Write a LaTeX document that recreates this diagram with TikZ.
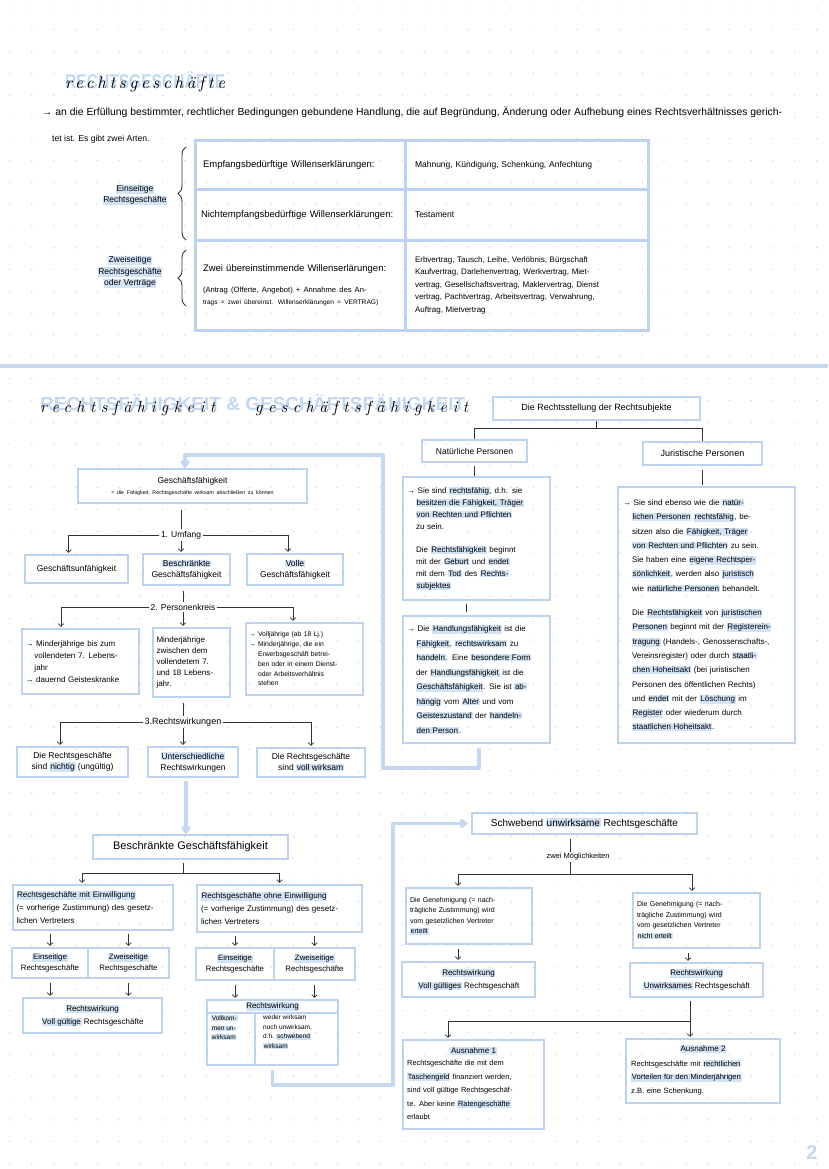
\documentclass[tikz,border=0pt]{standalone}
\usepackage{fontspec}
\newfontfamily\hand{Liberation Sans}
\newfontfamily\cursive[LetterSpace=22]{lmroman10-italic.otf}
\newfontfamily\cursivewide[LetterSpace=34]{lmroman10-italic.otf}
\usetikzlibrary{arrows.meta,decorations.pathreplacing}
\definecolor{boxblue}{HTML}{BCD2EE}
\definecolor{pathblue}{HTML}{C4D8F1}
\definecolor{hlblue}{HTML}{D3E3F6}
\definecolor{titleblue}{HTML}{C2D7F2}
\definecolor{dotgray}{HTML}{CFCFCF}
\newcommand{\hl}[1]{{\setlength{\fboxsep}{0.7pt}\colorbox{hlblue}{#1}}}
\newcommand{\fsz}[2]{\fontsize{#1}{#2}\selectfont}
\newcommand{\ind}{\hspace*{9pt}}
\begin{document}
\begin{tikzpicture}[x=1pt,y=-1pt,
  box/.style={draw=boxblue, line width=1.3pt, inner sep=0pt, font=\hand\fsz{8}{11}, align=left},
  cbox/.style={box, align=center},
  hbox/.style={box, align=center, line width=2.6pt},
  tcell/.style={draw=boxblue, line width=3pt, inner sep=0pt, align=left, font=\hand\fsz{9.5}{12}},
  con/.style={draw=black!80, line width=0.75pt},
  arr/.style={con, -{Straight Barb[length=2.6pt,width=5.5pt]}, shorten >=1.5pt},
  bpath/.style={draw=pathblue, line width=3.3pt, line join=round},
  btip/.style={-{Triangle[length=8pt,width=11pt,round]}},
  lbl/.style={font=\hand\fsz{8.5}{10}, inner sep=1.5pt},
  txt/.style={font=\hand\fsz{8}{11}, inner sep=0pt, align=left},
]
\fill[white] (0,0) rectangle (828,1169);
\useasboundingbox (0,0) rectangle (828,1169);
\foreach \i in {0,...,37}{\foreach \j in {0,...,53}{\fill[dotgray] (10+\i*21.8,8+\j*21.8) circle (0.7);}}

% ---------- title 1 ----------
\node[anchor=base west, inner sep=0] (t1) at (65,89) {\makebox[0pt][l]{\resizebox{160pt}{17pt}{\hand\bfseries\color{titleblue}RECHTSGESCHÄFTE}}\resizebox{160pt}{!}{\cursive rechtsgeschäfte}};

\node[anchor=west, inner sep=0] (intro1) at (42,112) {\resizebox{740pt}{!}{\hand\fsz{9}{11}→ an die Erfüllung bestimmter, rechtlicher Bedingungen gebundene Handlung, die auf Begründung, Änderung oder Aufhebung eines Rechtsverhältnisses gerich-}};
\node[anchor=west, inner sep=0, font=\hand\fsz{8.6}{11}] (intro2) at (52,139) {tet ist. Es gibt zwei Arten.};

% ---------- table ----------
\node[tcell, minimum width=210pt, minimum height=49pt, text width=194pt] (t11) at (300,165.5) {Empfangsbedürftige Willenserklärungen:};
\node[tcell, minimum width=243pt, minimum height=49pt, text width=223pt, font=\hand\fsz{8.5}{12}] (t12) at (526.5,165.5) {Mahnung, Kündigung, Schenkung, Anfechtung};
\node[tcell, minimum width=210pt, minimum height=50pt, text width=198pt] (t21) at (300,215) {Nichtempfangsbedürftige Willenserklärungen:};
\node[tcell, minimum width=243pt, minimum height=50pt, text width=223pt, font=\hand\fsz{8.5}{12}] (t22) at (526.5,215) {Testament};
\node[tcell, minimum width=210pt, minimum height=90pt, text width=194pt] (t31) at (300,285) {Zwei übereinstimmende Willenserlärungen:\par\vspace{9pt}\fsz{7.6}{12}(Antrag (Offerte, Angebot) + Annahme des An-\par\fsz{6.6}{13}trags = zwei übereinst. Willenserklärungen = VERTRAG)};
\node[tcell, minimum width=243pt, minimum height=90pt, text width=223pt, font=\hand\fsz{8}{12.5}] (t32) at (526.5,285) {Erbvertrag, Tausch, Leihe, Verlöbnis, Bürgschaft\\Kaufvertrag, Darlehenvertrag, Werkvertrag, Miet-\\vertrag, Gesellschaftsvertrag, Maklervertrag, Dienst\\vertrag, Pachtvertrag, Arbeitsvertrag, Verwahrung,\\Auftrag, Mietvertrag};

\draw[con, line width=0.9pt, decorate, decoration={brace, amplitude=8pt}] (186,240) -- (186,147);
\draw[con, line width=0.9pt, decorate, decoration={brace, amplitude=8pt}] (186,306) -- (186,250);
\node[txt, align=center, font=\hand\fsz{8.5}{11.5}] (ein) at (135,195) {\hl{Einseitige}\\\hl{Rechtsgeschäfte}};
\node[txt, align=center, font=\hand\fsz{8.5}{11.5}] (zwei) at (130,272) {\hl{Zweiseitige}\\\hl{Rechtsgeschäfte}\\\hl{oder Verträge}};

\draw[bpath] (0,366) -- (828,366);

% ---------- title 2 ----------
\node[anchor=base west, inner sep=0] (t2) at (40,412) {\makebox[0pt][l]{\raisebox{2pt}{\resizebox{425pt}{16pt}{\hand\bfseries\color{titleblue}RECHTSFÄHIGKEIT \& GESCHÄFTSFÄHIGKEIT}}}\makebox[0pt][l]{\resizebox{175pt}{!}{\cursivewide rechtsfähigkeit}}\hspace*{215pt}\resizebox{213pt}{!}{\cursivewide geschäftsfähigkeit}};

% ---------- right tree ----------
\node[hbox, minimum width=207pt, minimum height=23pt, font=\hand\fsz{9}{11}] (rs) at (596.5,408.5) {Die Rechtsstellung der Rechtsubjekte};
\node[hbox, minimum width=105pt, minimum height=22pt, font=\hand\fsz{8.5}{11}] (np) at (474.5,451) {Natürliche Personen};
\node[hbox, minimum width=119pt, minimum height=23pt, font=\hand\fsz{9}{11}] (jp) at (702.5,453.5) {Juristische Personen};
\coordinate (rsj) at (596.5,428);
\draw[con] (rs.south) -- (rsj);
\draw[con] (rsj) -| (np.north);
\draw[con] (rsj) -| (jp.north);

\node[box, minimum width=147pt, minimum height=123pt, text width=139pt, font=\hand\fsz{8}{12}] (n1) at (476.5,538.5) {→ Sie sind \hl{rechtsfähig}, d.h. sie\\\ind\hl{besitzen die Fähigkeit, Träger}\\\ind\hl{von Rechten und Pflichten}\\\ind zu sein.\par\vspace{11pt}\ind Die \hl{Rechtsfähigkeit} beginnt\\\ind mit der \hl{Geburt} und \hl{endet}\\\ind mit dem \hl{Tod} des \hl{Rechts-}\\\ind\hl{subjektes}};
\node[box, minimum width=147pt, minimum height=127pt, text width=139pt, font=\hand\fsz{8}{14.5}] (n2) at (476.5,679.5) {→ Die \hl{Handlungsfähigkeit} ist die\\\ind\hl{Fähigkeit}, \hl{rechtswirksam} zu\\\ind\hl{handeln}. Eine \hl{besondere Form}\\\ind der \hl{Handlungsfähigkeit} ist die\\\ind\hl{Geschäftsfähigkeit}. Sie ist \hl{ab-}\\\ind\hl{hängig} vom \hl{Alter} und vom\\\ind\hl{Geisteszustand} der \hl{handeln-}\\\ind\hl{den Person}.};
\draw[con, shorten <=3pt] (np.south) -- (np.south |- n1.north);
\draw[con, shorten <=3pt, shorten >=3pt] ([xshift=-10pt]n1.south) -- ([xshift=-10pt]n2.north);

\node[box, minimum width=177pt, minimum height=256pt, text width=167pt, font=\hand\fsz{8}{14.3}] (m) at (706.5,615) {→ Sie sind ebenso wie die \hl{natür-}\\\ind\hl{lichen Personen} \hl{rechtsfähig}, be-\\\ind sitzen also die \hl{Fähigkeit, Träger}\\\ind\hl{von Rechten und Pflichten} zu sein.\\\ind Sie haben eine \hl{eigene Rechtsper-}\\\ind\hl{sönlichkeit}, werden also \hl{juristisch}\\\ind wie \hl{natürliche Personen} behandelt.\par\vspace{10pt}\ind Die \hl{Rechtsfähigkeit} von \hl{juristischen}\\\ind\hl{Personen} beginnt mit der \hl{Registerein-}\\\ind\hl{tragung} (Handels-, Genossenschafts-,\\\ind Vereinsregister) oder durch \hl{staatli-}\\\ind\hl{chen Hoheitsakt} (bei juristischen\\\ind Personen des öffentlichen Rechts)\\\ind und \hl{endet} mit der \hl{Löschung} im\\\ind\hl{Register} oder wiederum durch\\\ind\hl{staatlichen Hoheitsakt}.};
\draw[con, shorten <=4pt, shorten >=1pt] (jp.south) -- (jp.south |- m.north);

% ---------- left tree ----------
\node[hbox, minimum width=229pt, minimum height=34pt, text width=222pt, line width=2.2pt] (gf) at (192.5,486) {\fsz{8.5}{11}Geschäftsfähigkeit\par\fsz{5.3}{7}= die Fähigkeit, Rechtsgeschäfte wirksam abschließen zu können};
\node[lbl] (umf) at (181,535) {1. Umfang};
\node[cbox, minimum width=103pt, minimum height=28pt, font=\hand\fsz{8.5}{11}] (gu) at (76.5,569) {Geschäftsunfähigkeit};
\node[cbox, minimum width=87pt, minimum height=31pt, font=\hand\fsz{8.5}{11}] (bgf) at (186.5,569.5) {\hl{Beschränkte}\\Geschäftsfähigkeit};
\node[cbox, minimum width=96pt, minimum height=31pt, font=\hand\fsz{8.5}{11}] (vgf) at (295,569.5) {\hl{Volle}\\Geschäftsfähigkeit};
\draw[con, shorten <=6pt] (umf.north |- gf.south) -- (umf.north);
\draw[arr] (umf.west) -| ([xshift=-8pt]gu.north);
\draw[arr] (umf.south) -- (umf.south |- bgf.north);
\draw[arr] (umf.east) -| ([xshift=-7pt]vgf.north);

\node[lbl] (pers) at (183,607) {2. Personenkreis};
\node[box, minimum width=117pt, minimum height=65pt, text width=110pt, font=\hand\fsz{8}{12}] (pa) at (80.5,661.5) {→ Minderjährige bis zum\\\ind vollendeten 7. Lebens-\\\ind jahr\\→ dauernd Geisteskranke};
\node[box, minimum width=77pt, minimum height=69pt, text width=70pt, font=\hand\fsz{8}{11}] (pb) at (191.5,662.5) {Minderjährige\\zwischen dem\\vollendetem 7.\\und 18 Lebens-\\jahr.};
\node[box, minimum width=117pt, minimum height=72pt, text width=111pt, font=\hand\fsz{6.8}{9.8}] (pc) at (304.5,659) {→ Volljährige (ab 18 Lj.)\\→ Minderjährige, die ein\\\ind Erwerbsgeschäft betrei-\\\ind ben oder in einem Dienst-\\\ind oder Arbeitsverhältnis\\\ind stehen};
\draw[con, shorten <=5pt] (pers.north |- bgf.south) -- (pers.north);
\draw[arr] (pers.west) -| ([xshift=-19.5pt]pa.north);
\draw[arr] (pers.south) -- (pers.south |- pb.north);
\draw[arr] (pers.east) -| ([xshift=-11.5pt]pc.north);

\node[lbl, font=\hand\fsz{9}{11}] (wirk) at (183,722) {3.Rechtswirkungen};
\node[cbox, minimum width=111pt, minimum height=30pt, font=\hand\fsz{8.5}{11}] (rd) at (72.5,762) {Die Rechtsgeschäfte\\sind \hl{nichtig} (ungültig)};
\node[cbox, minimum width=90pt, minimum height=30pt, font=\hand\fsz{8.5}{11}] (re) at (193,762) {\hl{Unterschiedliche}\\Rechtswirkungen};
\node[cbox, minimum width=108pt, minimum height=29pt, font=\hand\fsz{8.5}{11}] (rf) at (311,762.5) {Die Rechtsgeschäfte\\sind \hl{voll wirksam}};
\draw[con, shorten <=5pt] (wirk.north |- pb.south) -- (wirk.north);
\draw[arr] (wirk.west) -| ([xshift=-12.5pt]rd.north);
\draw[arr] (wirk.south) -- (wirk.south |- re.north);
\draw[arr] (wirk.east) -| (rf.north);

% blue path from Natürliche Personen to Geschäftsfähigkeit
\coordinate (b1) at (479,768);
\coordinate (b2) at (383,768);
\coordinate (b3) at (383,455);
\coordinate (b4) at (185,455);
\draw[bpath, btip, shorten <=4pt] (n2.south -| b1) -- (b1) -- (b2) -- (b3) -- (b4) -- (b4 |- gf.north);

% ---------- Beschränkte Geschäftsfähigkeit ----------
\node[hbox, minimum width=195pt, minimum height=24pt, font=\hand\fsz{11}{13}, line width=2.2pt] (bgs) at (190.5,847) {Beschränkte Geschäftsfähigkeit};
\draw[bpath, btip, shorten <=3pt] ([xshift=-7pt]re.south) -- ([xshift=-7pt]re.south |- bgs.north);
\coordinate (bj) at (183,873);
\node[box, minimum width=160pt, minimum height=45pt, text width=153pt, font=\hand\fsz{8}{13}] (g) at (93,907.5) {\hl{Rechtsgeschäfte mit Einwilligung}\\(= vorherige Zustimmung) des gesetz-\\lichen Vertreters};
\node[box, minimum width=165pt, minimum height=47pt, text width=157pt, font=\hand\fsz{8}{13}] (h) at (279.5,908.5) {\hl{Rechtsgeschäfte ohne Einwilligung}\\(= vorherige Zustimmung) des gesetz-\\lichen Vertreters};
\draw[con, shorten <=3pt] (bj |- bgs.south) -- (bj);
\draw[arr] (bj) -| ([xshift=-11pt]g.north);
\draw[arr] (bj) -| (h.north);

\node[cbox, minimum width=76pt, minimum height=30pt, font=\hand\fsz{7.8}{11}] (g2a) at (50,963) {\hl{Einseitige}\\Rechtsgeschäfte};
\node[cbox, minimum width=81pt, minimum height=30pt, font=\hand\fsz{7.8}{11}] (g2b) at (128.5,963) {\hl{Zweiseitige}\\Rechtsgeschäfte};
\node[cbox, minimum width=139pt, minimum height=35pt, font=\hand\fsz{8}{13}] (g3) at (92.5,1015.5) {\hl{Rechtswirkung}\\\hl{Voll gültige} Rechtsgeschäfte};
\draw[arr, shorten <=3pt] (g.south -| g2a.north) -- (g2a.north);
\draw[arr, shorten <=3pt] (g.south -| g2b.north) -- (g2b.north);
\draw[arr, shorten <=4pt] (g2a.south) -- (g2a.south |- g3.north);
\draw[arr, shorten <=4pt] (g2b.south) -- (g2b.south |- g3.north);

\node[cbox, minimum width=78pt, minimum height=32pt, font=\hand\fsz{7.8}{11}] (h2a) at (235,964) {\hl{Einseitige}\\Rechtsgeschäfte};
\node[cbox, minimum width=81pt, minimum height=32pt, font=\hand\fsz{7.8}{11}] (h2b) at (314.5,964) {\hl{Zweiseitige}\\Rechtsgeschäfte};
\node[cbox, minimum width=131pt, minimum height=13pt, font=\hand\fsz{8}{10}] (h3h) at (272.5,1006.5) {\hl{Rechtswirkung}};
\node[box, minimum width=48pt, minimum height=52pt] (h3l) at (231,1039) {};
\node[box, minimum width=83pt, minimum height=52pt] (h3r) at (296.5,1039) {};
\node[txt, anchor=north west, font=\hand\fsz{6.5}{9.5}] (h3lt) at (211,1015) {\hl{Vollkom-}\\\hl{men un-}\\\hl{wirksam}};
\node[txt, anchor=north west, font=\hand\fsz{6.5}{9.5}] (h3rt) at (263,1015) {weder wirksam\\noch unwirksam,\\d.h. \hl{schwebend}\\\hl{wirksam}};
\draw[arr, shorten <=3pt] (h.south -| h2a.north) -- (h2a.north);
\draw[arr, shorten <=3pt] (h.south -| h2b.north) -- (h2b.north);
\draw[arr, shorten <=4pt] (h2a.south) -- (h2a.south |- h3h.north);
\draw[arr, shorten <=4pt] (h2b.south) -- (h2b.south |- h3h.north);

% ---------- Schwebend unwirksame ----------
\node[hbox, minimum width=225pt, minimum height=21pt, font=\hand\fsz{10}{12}] (sw) at (584.5,823.5) {Schwebend \hl{unwirksame} Rechtsgeschäfte};
\coordinate (c1) at (272.5,1085);
\coordinate (c2) at (393,1085);
\coordinate (c3) at (393,823.5);
\draw[bpath, btip, shorten <=4pt, shorten >=3pt] (h3l.south -| c1) -- (c1) -- (c2) -- (c3) -- (sw.west);

\node[lbl, font=\hand\fsz{7.5}{9}] (zm) at (578,857) {zwei Möglichkeiten};
\coordinate (zj) at (570,874);
\draw[con, shorten <=4pt] (zj |- sw.south) -- (zj |- zm.north);
\draw[con] (zj |- zm.south) -- (zj);
\node[box, minimum width=126pt, minimum height=56pt, text width=118pt, font=\hand\fsz{7}{10.5}] (gi) at (469,916) {Die Genehmigung (= nach-\\trägliche Zustimmung) wird\\vom gesetzlichen Vertreter\\\hl{erteilt}};
\node[box, minimum width=127pt, minimum height=55pt, text width=119pt, font=\hand\fsz{7}{10.5}] (gj) at (696.5,920.5) {Die Genehmigung (= nach-\\trägliche Zustimmung) wird\\vom gesetzlichen Vertreter\\\hl{nicht erteilt}};
\draw[arr] (zj) -| ([xshift=-11pt]gi.north);
\draw[arr] (zj) -| ([xshift=-4.5pt]gj.north);

\node[cbox, minimum width=133pt, minimum height=35pt, font=\hand\fsz{8}{13}] (gi2) at (468.5,979.5) {\hl{Rechtswirkung}\\\hl{Voll gültiges} Rechtsgeschäft};
\node[cbox, minimum width=133pt, minimum height=34pt, font=\hand\fsz{8}{13}] (gj2) at (696.5,980) {\hl{Rechtswirkung}\\\hl{Unwirksames} Rechtsgeschäft};
\draw[arr, shorten <=4pt] ([xshift=-11pt]gi.south) -- ([xshift=-11pt]gi.south |- gi2.north);
\draw[arr, shorten <=4pt] ([xshift=-8.5pt]gj.south) -- ([xshift=-8.5pt]gj.south |- gj2.north);

\node[box, minimum width=141pt, minimum height=89pt] (ka) at (473.5,1084.5) {};
\node[box, minimum width=154pt, minimum height=64pt] (kb) at (703,1071) {};
\coordinate (aj) at (690,1021);
\draw[con, shorten <=3pt] (aj |- gj2.south) -- (aj);
\draw[arr] (aj) -| ([xshift=-25.5pt]ka.north);
\draw[arr] (aj) -- (aj |- kb.north);
\node[txt, font=\hand\fsz{8}{10}] (kah) at (473.5,1051) {\hl{Ausnahme 1}};
\node[txt, anchor=north west, font=\hand\fsz{7.4}{13.5}, text width=136pt] (kat) at (407,1060) {Rechtsgeschäfte die mit dem\\\hl{Taschengeld} finanziert werden,\\sind voll gültige Rechtsgeschäf-\\te. Aber keine \hl{Ratengeschäfte}\\erlaubt};
\node[txt, font=\hand\fsz{8}{10}] (kbh) at (703,1049) {\hl{Ausnahme 2}};
\node[txt, anchor=north west, font=\hand\fsz{7.6}{13.5}, text width=150pt] (kbt) at (631,1060) {Rechtsgeschäfte mit \hl{rechtlichen}\\\hl{Vorteilen für den Minderjährigen}\\z.B. eine Schenkung.};

\node[font=\hand\bfseries\fsz{20}{20}, text=titleblue, inner sep=0] (pg) at (812,1153) {2};
\end{tikzpicture}
\end{document}
